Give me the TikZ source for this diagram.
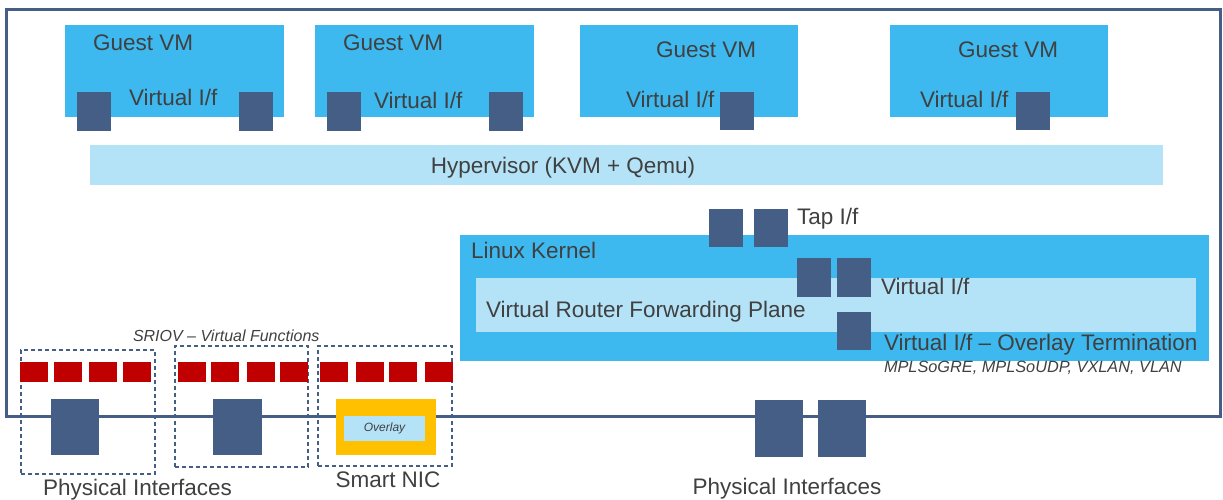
\documentclass[tikz,border=0pt]{standalone}
\usepackage{fontspec}
\setmainfont{Liberation Sans}
\begin{document}
\begin{tikzpicture}[x=1pt,y=-1pt,
  every node/.style={inner sep=0pt,outer sep=0pt},
  vm/.style={fill=vmblue},
  light/.style={fill=lightblue},
  port/.style={fill=portblue},
  vf/.style={fill=vfred},
  nic/.style={fill=nicyellow},
  group/.style={draw=portblue,dashed,line width=1.3pt,dash pattern=on 4pt off 3pt},
  txt/.style={text=txtgray,font=\fontsize{22.5}{26}\selectfont,anchor=base west},
  ctxt/.style={text=txtgray,font=\fontsize{22.5}{26}\selectfont,anchor=base},
  itxt/.style={text=txtgray,font=\fontsize{16}{18}\selectfont\itshape,anchor=base west}
]
\definecolor{vmblue}{HTML}{3DB9EF}
\definecolor{lightblue}{HTML}{B4E3F8}
\definecolor{portblue}{HTML}{445E86}
\definecolor{vfred}{HTML}{C00000}
\definecolor{nicyellow}{HTML}{FFC000}
\definecolor{txtgray}{HTML}{404040}
\newcommand\bx[6]{\node[#1,minimum width={(#5-#3)*1pt},minimum height={(#6-#4)*1pt}] (#2) at ({(#3+#5)/2},{(#4+#6)/2}) {};}
\useasboundingbox (0,0) rectangle (1223,500);
% host frame
\node[draw=portblue,line width=3pt,minimum width=1214pt,minimum height=406pt] (host) at (613,213) {};
% guest VMs
\bx{vm}{vm1}{65}{25}{284}{117}
\bx{vm}{vm2}{315}{25}{534}{117}
\bx{vm}{vm3}{580}{25}{798}{117}
\bx{vm}{vm4}{890}{25}{1108}{117}
\node[txt] (g1) at (93,51) {Guest VM};
\node[txt] (g2) at (343,51) {Guest VM};
\node[txt] (g3) at (656,58) {Guest VM};
\node[txt] (g4) at (958,58) {Guest VM};
\node[txt] (v1) at (129,106) {Virtual I/f};
\node[txt] (v2) at (374,109) {Virtual I/f};
\node[txt] (v3) at (626,108) {Virtual I/f};
\node[txt] (v4) at (920,108) {Virtual I/f};
\bx{port}{p1a}{77}{92}{111}{131}
\bx{port}{p1b}{239}{92}{273}{131}
\bx{port}{p2a}{327}{92}{361}{131}
\bx{port}{p2b}{489}{92}{523}{131}
\bx{port}{p3}{720}{92}{754}{130}
\bx{port}{p4}{1016}{92}{1050}{130}
% hypervisor
\bx{light}{hyp}{90}{145}{1163}{185}
\node[ctxt] (hyptxt) at (563,173) {Hypervisor (KVM + Qemu)};
% linux kernel
\bx{vm}{kernel}{460}{235}{1209}{361}
\node[txt] (kertxt) at (471,258) {Linux Kernel};
\bx{light}{vrfp}{476}{278}{1196}{332}
\node[txt] (vrtxt) at (486,317) {Virtual Router Forwarding Plane};
\bx{port}{tap1}{709}{209}{743}{247}
\bx{port}{tap2}{754}{209}{788}{247}
\node[txt] (taptxt) at (797,224) {Tap I/f};
\bx{port}{vi1}{797}{258}{831}{297}
\bx{port}{vi2}{837}{258}{871}{297}
\node[txt] (vitxt) at (881,294) {Virtual I/f};
\bx{port}{ovl}{837}{312}{871}{350}
\node[txt] (ovltxt) at (884,350) {Virtual I/f -- Overlay Termination};
\node[itxt,font=\fontsize{16.3}{18}\selectfont\itshape] (encap) at (884,372) {MPLSoGRE, MPLSoUDP, VXLAN, VLAN};
% SRIOV
\node[itxt] (sriov) at (133,341) {SRIOV -- Virtual Functions};
\bx{group}{grp1}{21}{350}{155}{474}
\bx{group}{grp2}{175}{346}{308}{467}
\bx{group}{grp3}{318}{346}{452}{466}
\bx{vf}{r11}{20}{362}{48}{382}
\bx{vf}{r12}{54}{362}{82}{382}
\bx{vf}{r13}{89}{362}{117}{382}
\bx{vf}{r14}{123}{362}{151}{382}
\bx{vf}{r21}{178}{362}{206}{382}
\bx{vf}{r22}{211}{362}{239}{382}
\bx{vf}{r23}{247}{362}{275}{382}
\bx{vf}{r24}{280}{362}{308}{382}
\bx{vf}{r31}{320}{362}{348}{382}
\bx{vf}{r32}{356}{362}{384}{382}
\bx{vf}{r33}{389}{362}{417}{382}
\bx{vf}{r34}{425}{362}{453}{382}
\bx{port}{ph1}{51}{399}{99}{455}
\bx{port}{ph2}{213}{399}{262}{455}
\bx{nic}{snic}{336}{399}{436}{455}
\bx{light}{ovlbox}{344}{416}{425}{441}
\node[text=txtgray,font=\fontsize{12}{14}\selectfont\itshape] (ovlytxt) at (ovlbox) {Overlay};
\bx{port}{ph3}{755}{400}{803}{457}
\bx{port}{ph4}{818}{400}{866}{457}
\node[txt] (phys1) at (43,495) {Physical Interfaces};
\node[ctxt] (snictxt) at (388,487) {Smart NIC};
\node[ctxt] (phys2) at (787,494) {Physical Interfaces};
\end{tikzpicture}
\end{document}
